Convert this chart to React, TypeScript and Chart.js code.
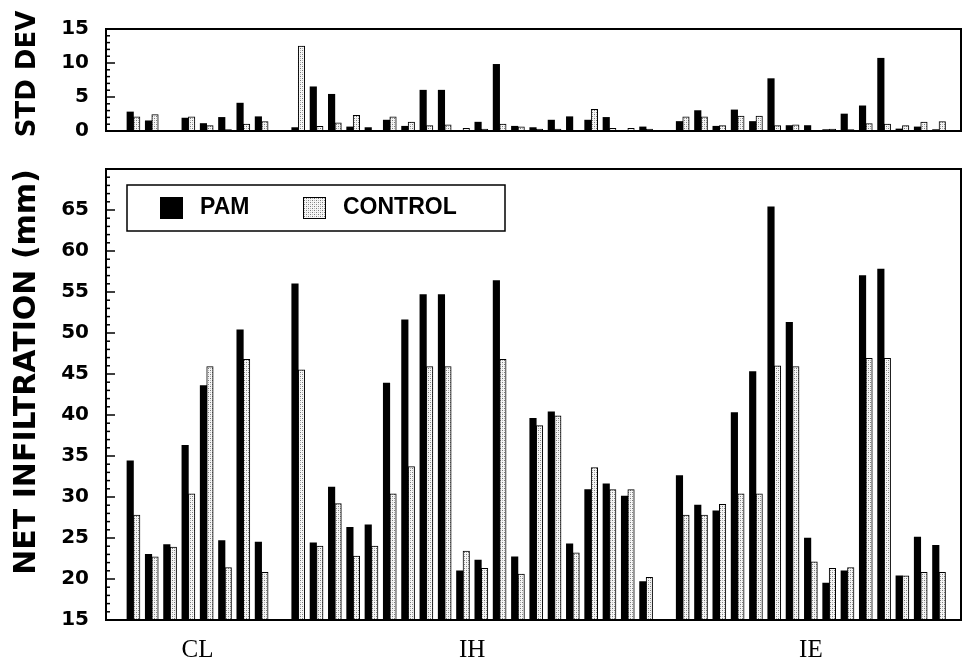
import React, { useEffect, useRef } from 'react';
import { Chart, registerables } from 'chart.js';
Chart.register(...registerables);

// ---- DATA ----
const groupNames = ['CL', 'IH', 'IE'];

// Net infiltration (mm)
const netPamCL = [34.4, 23.0, 24.2, 36.3, 43.6, 24.7, 50.4, 24.5];
const netControlCL = [27.8, 22.7, 23.9, 30.4, 45.9, 21.4, 46.8, 20.8];
const netPamIH = [56.0, 24.4, 31.2, 26.3, 26.6, 43.9, 51.6, 54.7, 54.7, 21.0, 22.3, 56.4, 22.7, 39.6, 40.4, 24.3, 30.9, 31.6, 30.1, 19.7];
const netControlIH = [45.5, 24.0, 29.2, 22.8, 24.0, 30.4, 33.7, 45.9, 45.9, 23.4, 21.3, 46.8, 20.6, 38.7, 39.9, 23.2, 33.6, 30.9, 30.9, 20.2];
const netPamIE = [32.6, 29.0, 28.3, 40.3, 45.3, 65.4, 51.3, 25.0, 19.5, 21.0, 57.0, 57.8, 20.4, 25.1, 24.1];
const netControlIE = [27.8, 27.8, 29.1, 30.4, 30.4, 46.0, 45.9, 22.1, 21.3, 21.4, 46.9, 46.9, 20.4, 20.8, 20.8];

// Standard deviation
const sdPamCL = [2.8, 1.5, 0.1, 1.9, 1.1, 2.0, 4.1, 2.1];
const sdControlCL = [2.1, 2.4, 0.1, 2.1, 0.8, 0.2, 1.0, 1.4];
const sdPamIH = [0.5, 6.5, 5.4, 0.6, 0.5, 1.6, 0.7, 6.0, 6.0, 0.05, 1.3, 9.8, 0.7, 0.5, 1.6, 2.1, 1.6, 2.0, 0.1, 0.6];
const sdControlIH = [12.5, 0.7, 1.2, 2.3, 0.05, 2.1, 1.3, 0.8, 0.9, 0.4, 0.3, 1.0, 0.6, 0.3, 0.3, 0.1, 3.2, 0.4, 0.4, 0.3];
const sdPamIE = [1.4, 3.0, 0.7, 3.1, 1.4, 7.7, 0.8, 0.8, 0.2, 2.5, 3.7, 10.7, 0.3, 0.6, 0.2];
const sdControlIE = [2.1, 2.1, 0.8, 2.2, 2.2, 0.8, 0.9, 0.05, 0.3, 0.2, 1.1, 1.0, 0.8, 1.3, 1.4];

const netTicks = [15, 20, 25, 30, 35, 40, 45, 50, 55, 60, 65];
const sdTicks = [0, 5, 10, 15];

const GAP = 1; // empty slots between groups

function buildPoints(groups: number[][]) {
  const pts: { x: number; y: number }[] = [];
  let offset = 0;
  groups.forEach((g) => {
    g.forEach((v, i) => pts.push({ x: offset + i, y: v }));
    offset += g.length + GAP;
  });
  return pts;
}
function groupCenters(groups: number[][]) {
  const c: number[] = [];
  let offset = 0;
  groups.forEach((g) => {
    c.push(offset + (g.length - 1) / 2);
    offset += g.length + GAP;
  });
  return c;
}

const sizes = [netPamCL, netPamIH, netPamIE];
const centers = groupCenters(sizes);
const lastIndex = sizes.reduce((s, g) => s + g.length, 0) + GAP * (sizes.length - 1) - 1;
const X_MIN = -1.5;
const X_MAX = lastIndex + 1.2;

function makePattern(): CanvasPattern | string {
  const c = document.createElement('canvas');
  c.width = 4;
  c.height = 4;
  const g = c.getContext('2d');
  if (!g) return '#ddd';
  g.fillStyle = '#f6f6f6';
  g.fillRect(0, 0, 4, 4);
  g.fillStyle = '#7a7a7a';
  g.fillRect(0, 0, 1, 1);
  g.fillRect(2, 2, 1, 1);
  g.fillStyle = '#b8b8b8';
  g.fillRect(2, 0, 1, 1);
  g.fillRect(0, 2, 1, 1);
  return g.createPattern(c, 'repeat') || '#ddd';
}

const frameTicksPlugin = {
  id: 'frameTicks',
  afterDatasetsDraw(chart: any) {
    const { ctx, chartArea: a, scales } = chart;
    const y = scales.y;
    ctx.save();
    ctx.strokeStyle = '#000';
    ctx.lineWidth = 1.5;
    for (let v = Math.ceil(y.min); v <= y.max; v++) {
      const py = y.getPixelForValue(v);
      const len = v % 5 === 0 ? 9 : 4;
      ctx.beginPath();
      ctx.moveTo(a.left, py);
      ctx.lineTo(a.left + len, py);
      ctx.stroke();
    }
    ctx.lineWidth = 2;
    ctx.strokeRect(a.left, a.top, a.right - a.left, a.bottom - a.top);
    ctx.restore();
  },
};

function titlePlugin(text: string, font: string, cx: number, cy: number) {
  return {
    id: 'vtitle',
    afterDraw(chart: any) {
      const ctx = chart.ctx;
      ctx.save();
      ctx.translate(cx, cy);
      ctx.rotate(-Math.PI / 2);
      ctx.font = font;
      ctx.fillStyle = '#000';
      ctx.textAlign = 'center';
      ctx.textBaseline = 'middle';
      ctx.fillText(text, 0, 0);
      ctx.restore();
    },
  };
}

function legendPlugin(pattern: CanvasPattern | string) {
  return {
    id: 'boxLegend',
    afterDraw(chart: any) {
      const { ctx, chartArea: a } = chart;
      const bx = a.left + 21;
      const by = a.top + 16;
      ctx.save();
      ctx.fillStyle = '#fff';
      ctx.fillRect(bx, by, 378, 46);
      ctx.strokeStyle = '#000';
      ctx.lineWidth = 1.5;
      ctx.strokeRect(bx, by, 378, 46);
      // PAM
      ctx.fillStyle = '#000';
      ctx.fillRect(bx + 33, by + 12, 23, 22);
      ctx.font = 'bold 23px "Liberation Sans", Arial, sans-serif';
      ctx.textBaseline = 'middle';
      ctx.textAlign = 'left';
      ctx.fillText('PAM', bx + 73, by + 23);
      // CONTROL
      ctx.fillStyle = pattern as any;
      ctx.fillRect(bx + 176, by + 12, 23, 22);
      ctx.lineWidth = 1;
      ctx.strokeRect(bx + 176.5, by + 12.5, 22, 21);
      ctx.fillStyle = '#000';
      ctx.fillText('CONTROL', bx + 216, by + 23);
      ctx.restore();
    },
  };
}

const tickFont = { family: '"DejaVu Sans", sans-serif', weight: 'bold' as const, size: 20 };

export default function App() {
  const topRef = useRef<HTMLCanvasElement>(null);
  const botRef = useRef<HTMLCanvasElement>(null);

  useEffect(() => {
    const pattern = makePattern();

    const barBase = {
      barThickness: 6.5,
      grouped: true,
    };

    const top = new Chart(topRef.current as HTMLCanvasElement, {
      type: 'bar',
      data: {
        datasets: [
          {
            label: 'PAM',
            data: buildPoints([sdPamCL, sdPamIH, sdPamIE]),
            backgroundColor: '#000',
            borderWidth: 0,
            ...barBase,
          },
          {
            label: 'CONTROL',
            data: buildPoints([sdControlCL, sdControlIH, sdControlIE]),
            backgroundColor: pattern as any,
            borderColor: '#000',
            borderWidth: 1,
            ...barBase,
          },
        ],
      },
      options: {
        responsive: false,
        animation: false,
        devicePixelRatio: 1,
        layout: { padding: { left: 0, right: 2, top: 21, bottom: 14 } },
        plugins: { legend: { display: false }, tooltip: { enabled: false } },
        scales: {
          x: {
            type: 'linear',
            min: X_MIN,
            max: X_MAX,
            offset: false,
            grid: { display: false, offset: false },
            display: false,
          },
          y: {
            type: 'linear',
            min: 0,
            max: 15,
            grid: { display: false, drawTicks: false },
            border: { display: false },
            afterBuildTicks: (axis: any) => {
              axis.ticks = sdTicks.map((value) => ({ value }));
            },
            afterFit: (axis: any) => {
              axis.width = 106;
            },
            ticks: { font: tickFont, color: '#000', padding: 17 },
          },
        },
      } as any,
      plugins: [frameTicksPlugin, titlePlugin('STD DEV', 'bold 26px "DejaVu Sans", sans-serif', 28, 74)],
    });

    const bot = new Chart(botRef.current as HTMLCanvasElement, {
      type: 'bar',
      data: {
        datasets: [
          {
            label: 'PAM',
            data: buildPoints([netPamCL, netPamIH, netPamIE]),
            backgroundColor: '#000',
            borderWidth: 0,
            ...barBase,
          },
          {
            label: 'CONTROL',
            data: buildPoints([netControlCL, netControlIH, netControlIE]),
            backgroundColor: pattern as any,
            borderColor: '#000',
            borderWidth: 1,
            ...barBase,
          },
        ],
      },
      options: {
        responsive: false,
        animation: false,
        devicePixelRatio: 1,
        layout: { padding: { left: 0, right: 2, top: 17, bottom: 0 } },
        plugins: { legend: { display: false }, tooltip: { enabled: false } },
        scales: {
          x: {
            type: 'linear',
            min: X_MIN,
            max: X_MAX,
            offset: false,
            grid: { display: false, drawTicks: false, offset: false },
            border: { display: false },
            afterBuildTicks: (axis: any) => {
              axis.ticks = centers.map((value) => ({ value }));
            },
            afterFit: (axis: any) => {
              axis.height = 51;
            },
            ticks: {
              autoSkip: false,
              maxRotation: 0,
              padding: 15,
              color: '#000',
              font: { family: '"Liberation Serif", "Times New Roman", serif', size: 25, weight: 'normal' },
              callback: (_v: any, i: number) => groupNames[i],
            },
          },
          y: {
            type: 'linear',
            min: 15,
            max: 70,
            grid: { display: false, drawTicks: false },
            border: { display: false },
            afterBuildTicks: (axis: any) => {
              axis.ticks = netTicks.map((value) => ({ value }));
            },
            afterFit: (axis: any) => {
              axis.width = 106;
            },
            ticks: { font: tickFont, color: '#000', padding: 17 },
          },
        },
      } as any,
      plugins: [
        frameTicksPlugin,
        legendPlugin(pattern),
        titlePlugin('NET INFILTRATION (mm)', 'bold 30px "DejaVu Sans", sans-serif', 27, 232),
      ],
    });

    return () => {
      top.destroy();
      bot.destroy();
    };
  }, []);

  return (
    <div style={{ position: 'absolute', left: 0, top: 0, width: 963, height: 671, background: '#fff', overflow: 'hidden' }}>
      <canvas ref={topRef} width={963} height={160} style={{ position: 'absolute', left: 0, top: 0 }} />
      <canvas ref={botRef} width={963} height={531} style={{ position: 'absolute', left: 0, top: 140 }} />
    </div>
  );
}
